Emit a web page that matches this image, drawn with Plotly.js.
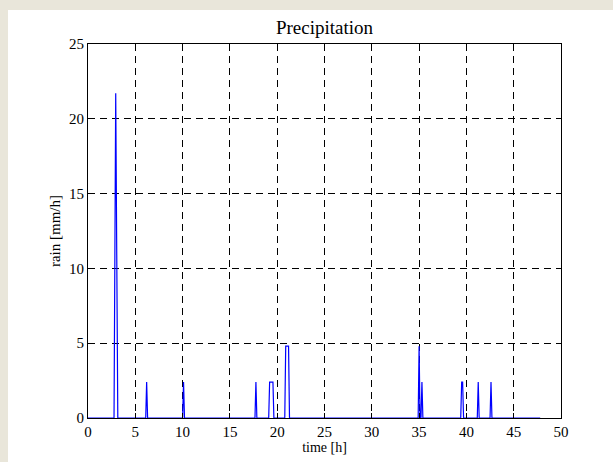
<!DOCTYPE html>
<html>
<head>
<meta charset="utf-8">
<script src="https://cdn.plot.ly/plotly-3.0.1.min.js"></script>
<style>
html,body{margin:0;padding:0;background:#fff;overflow:hidden;}
#topband{position:absolute;left:0;top:0;width:100%;height:10px;background:#e9e6da;}
#leftband{position:absolute;left:0;top:0;width:8px;height:100%;min-height:462px;background:#e9e6da;}
#chart{position:absolute;left:8px;top:10px;width:605px;height:452px;background:#fff;}
</style>
</head>
<body>
<div id="topband"></div>
<div id="leftband"></div>
<div id="chart"></div>
<script>
var timeH = [0, 2.75, 2.93, 3.15, 6.1, 6.2, 6.3, 10.0, 10.1, 10.2, 17.65, 17.75, 17.85,
             19.1, 19.2, 19.55, 19.65, 20.8, 20.9, 21.2, 21.3,
             34.9, 35.0, 35.1, 35.2, 35.3, 35.4,
             39.4, 39.5, 39.6, 39.7, 41.15, 41.25, 41.35, 42.5, 42.6, 42.7, 47.8];
var rainMmH = [0, 0, 21.7, 0, 0, 2.4, 0, 0, 2.4, 0, 0, 2.4, 0,
               0, 2.4, 2.4, 0, 0, 4.8, 4.8, 0,
               0, 4.8, 0, 0, 2.4, 0,
               0, 2.4, 2.4, 0, 0, 2.4, 0, 0, 2.4, 0, 0];
var xTicks = [0, 5, 10, 15, 20, 25, 30, 35, 40, 45, 50];
var yTicks = [0, 5, 10, 15, 20, 25];

var serif = "Liberation Serif";
var axisCommon = {
  showline: true, mirror: 'ticks', linecolor: '#000', linewidth: 1,
  ticks: 'inside', ticklen: 5, tickcolor: '#000',
  showgrid: true, gridcolor: '#000', gridwidth: 1, griddash: '7px,5px',
  zeroline: false, tickfont: {family: serif, size: 15, color: '#000'}
};
var layout = {
  width: 605, height: 452,
  paper_bgcolor: '#fff', plot_bgcolor: '#fff',
  margin: {l: 80, r: 52, t: 34, b: 44},
  showlegend: false,
  title: {text: 'Precipitation', font: {family: serif, size: 19, color: '#000'}, xref: 'paper', x: 0.5, xanchor: 'center', y: 0.962, yanchor: 'middle'},
  xaxis: Object.assign({}, axisCommon, {range: [0, 50], tickvals: xTicks, ticktext: xTicks.map(String),
    title: {text: 'time [h]', font: {family: serif, size: 14, color: '#000'}, standoff: 2}}),
  yaxis: Object.assign({}, axisCommon, {range: [0, 25], tickvals: yTicks, ticktext: yTicks.map(String),
    title: {text: 'rain [mm/h]', font: {family: serif, size: 15, color: '#000'}, standoff: 4}})
};
var trace = {x: timeH, y: rainMmH, type: 'scatter', mode: 'lines', line: {color: '#0000ff', width: 1.2}, hoverinfo: 'none'};
Plotly.newPlot('chart', [trace], layout, {staticPlot: true, displayModeBar: false});
</script>
</body>
</html>
